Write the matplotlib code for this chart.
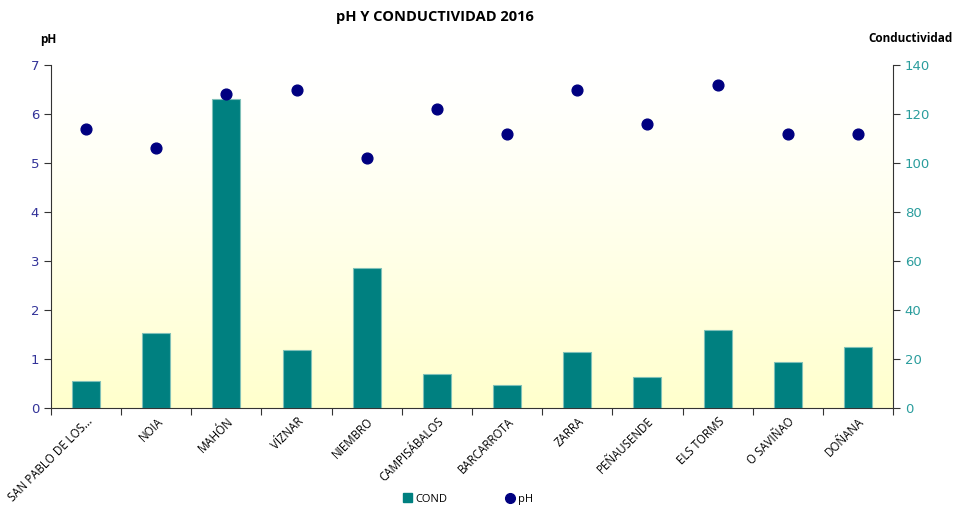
import numpy as np
import matplotlib
matplotlib.use("Agg")
import matplotlib.pyplot as plt
from matplotlib.lines import Line2D
from matplotlib.patches import Patch

categories = ["SAN PABLO DE LOS...", "NOIA", "MAHÓN", "VÍZNAR", "NIEMBRO", "CAMPISÁBALOS",
              "BARCARROTA", "ZARRA", "PEÑAUSENDE", "ELS TORMS", "O SAVIÑAO", "DOÑANA"]
cond = [11.0, 30.7, 126.0, 23.8, 57.1, 13.9, 9.2, 22.8, 12.8, 31.8, 18.7, 24.9]
ph = [5.7, 5.3, 6.4, 6.5, 5.1, 6.1, 5.6, 6.5, 5.8, 6.6, 5.6, 5.6]
ph_ticks = [0, 1, 2, 3, 4, 5, 6, 7]
cond_ticks = [0, 20, 40, 60, 80, 100, 120, 140]

fig = plt.figure(figsize=(9.54, 5.08), dpi=100)
ax = fig.add_axes([51/954, 1-408/508, (893-51)/954, (408-65)/508])
x = np.arange(len(categories))

# gradient background
grad = np.linspace(0, 1, 256).reshape(-1, 1) ** 1.3
top = np.array([1.0, 1.0, 1.0])
bot = np.array([1.0, 1.0, 0.80])
img = top[None, None, :] * (1 - grad[:, :, None]) + bot[None, None, :] * grad[:, :, None]
ax.imshow(img, extent=[0, 1, 0, 1], transform=ax.transAxes, aspect='auto', zorder=0)

ax.bar(x, cond, width=0.4, color="#008080", edgecolor="#7fc0b8", linewidth=0.8, zorder=2)
ax.set_xlim(-0.5, len(categories) - 0.5)
ax.set_ylim(0, 140)
ax.set_xticks(np.arange(len(categories) + 1) - 0.5)
ax.set_xticklabels([])
ax.set_xticks(x, minor=True)
ax.set_xticklabels(categories, minor=True, rotation=45, ha='right', rotation_mode='anchor',
                   fontsize=8.3, family='Open Sans')
ax.tick_params(axis='x', which='minor', length=0, pad=5)
ax.tick_params(axis='x', which='major', length=5, color="#333333")

ax2 = ax.twinx()
ax2.patch.set_visible(False)
ax2.scatter(x, ph, s=60, color="#000080", zorder=3)
ax2.set_ylim(0, 7)
ax2.set_yticks(ph_ticks)

# conductivity axis on the right, pH axis on the left
ax.yaxis.set_ticks_position('right')
ax.yaxis.set_label_position('right')
ax.set_yticks(cond_ticks)
ax.tick_params(axis='y', which='both', left=False, labelleft=False, right=True, labelright=True,
               colors="#333333", labelcolor="#2a9d9d", labelsize=9.5, length=5, direction='out')
ax2.yaxis.set_ticks_position('left')
ax2.tick_params(axis='y', which='both', right=False, labelright=False, left=True, labelleft=True,
                colors="#333333", labelcolor="#333399", labelsize=9.5, length=5, direction='out')

for a in (ax, ax2):
    a.spines['top'].set_visible(False)
ax.spines['left'].set_visible(False)
ax.spines['right'].set_visible(True)
ax.spines['right'].set_color("#333333")
ax.spines['bottom'].set_color("#333333")
ax2.spines['right'].set_visible(False)
ax2.spines['bottom'].set_visible(False)
ax2.spines['left'].set_visible(True)
ax2.spines['left'].set_color("#333333")

fig.text(435/954, 1-17/508, "pH Y CONDUCTIVIDAD 2016", ha='center', va='center',
         fontsize=10.5, fontweight='bold', family='Open Sans')
fig.text(48/954, 1-40/508, "pH", ha='center', va='center', fontsize=8.5, fontweight='bold', family='Open Sans')
fig.text(911/954, 1-38/508, "Conductividad", ha='center', va='center', fontsize=8.5,
         fontweight='bold', family='Open Sans')

handles = [Patch(facecolor="#008080", edgecolor="#008080"),
           Line2D([], [], marker='o', color='none', markerfacecolor="#000080",
                  markeredgecolor="#000080", markersize=7)]
fig.legend(handles, ["COND", "pH"], loc='center', bbox_to_anchor=(468/954, 1-499/508), ncol=2,
           frameon=False, handlelength=0.8, handleheight=0.8, handletextpad=0.3,
           columnspacing=5.3, prop={'family': 'Open Sans', 'size': 8})

fig.savefig("out.png", dpi=100)
